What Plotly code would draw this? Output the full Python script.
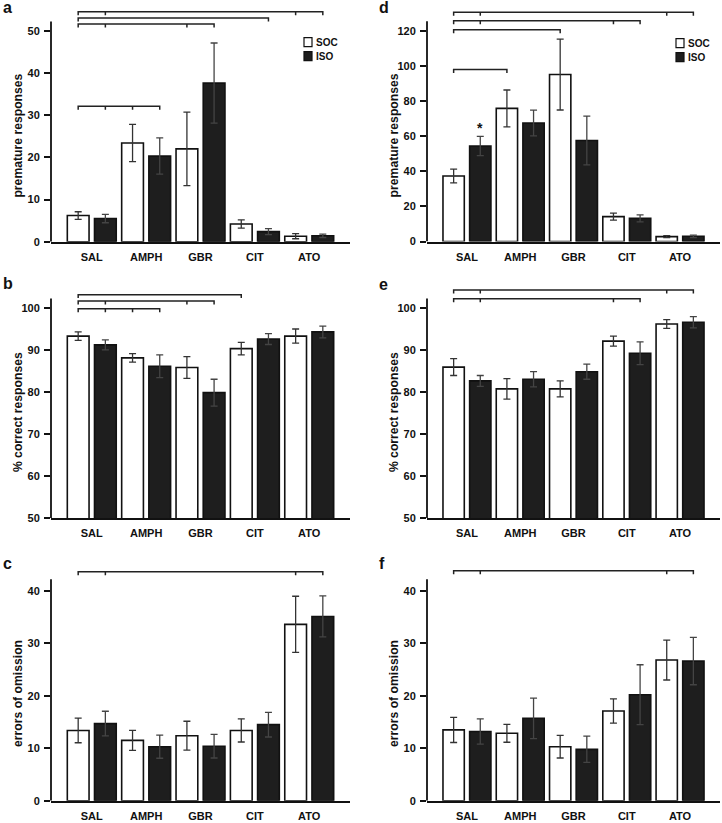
import plotly.graph_objects as go

W, H = 722, 823

drugs = ["SAL", "AMPH", "GBR", "CIT", "ATO"]

# a: premature responses (left column)
a_soc = [6.2, 23.4, 22.0, 4.2, 1.3]
a_soc_sem = [0.9, 4.4, 8.7, 1.0, 0.6]
a_iso = [5.5, 20.3, 37.6, 2.4, 1.4]
a_iso_sem = [1.0, 4.3, 9.5, 0.7, 0.4]

# b: % correct responses
b_soc = [93.4, 88.2, 85.9, 90.4, 93.4]
b_soc_sem = [1.0, 1.0, 2.6, 1.5, 1.7]
b_iso = [91.3, 86.2, 79.9, 92.7, 94.4]
b_iso_sem = [1.2, 2.7, 3.2, 1.3, 1.4]

# c: errors of omission
c_soc = [13.4, 11.5, 12.4, 13.4, 33.6]
c_soc_sem = [2.35, 1.9, 2.75, 2.2, 5.35]
c_iso = [14.7, 10.3, 10.4, 14.5, 35.1]
c_iso_sem = [2.35, 2.2, 2.25, 2.35, 3.9]

# d: premature responses (right column)
d_soc = [37.3, 75.8, 95.1, 14.2, 2.8]
d_soc_sem = [3.9, 10.5, 20.2, 2.0, 0.6]
d_iso = [54.4, 67.5, 57.5, 13.2, 3.0]
d_iso_sem = [5.5, 7.3, 13.9, 2.0, 0.7]

# e: % correct responses
e_soc = [86.0, 80.8, 80.8, 92.2, 96.3]
e_soc_sem = [2.0, 2.45, 1.9, 1.2, 1.05]
e_iso = [82.7, 83.1, 84.9, 89.3, 96.7]
e_iso_sem = [1.3, 1.8, 1.8, 2.7, 1.35]

# f: errors of omission
f_soc = [13.5, 12.85, 10.3, 17.1, 26.8]
f_soc_sem = [2.4, 1.7, 2.15, 2.3, 3.8]
f_iso = [13.2, 15.7, 9.8, 20.2, 26.6]
f_iso_sem = [2.4, 3.85, 2.5, 5.7, 4.5]

# significance brackets: (bar indices, height); bar index = 2*drug + (0 SOC / 1 ISO)
a_brackets = [([0, 1, 8, 9], 54.5), ([0, 7], 53.0), ([0, 1, 4, 5], 51.6), ([0, 1, 2, 3], 32.1)]
b_brackets = [([0, 6], 103.3), ([0, 1, 4, 5], 101.75), ([0, 1, 2, 3], 99.9)]
c_brackets = [([0, 1, 8, 9], 43.6)]
d_brackets = [([0, 1, 8, 9], 130.6), ([0, 1, 6, 7], 125.7), ([0, 4], 120.6), ([0, 2], 98.0)]
e_brackets = [([0, 1, 8, 9], 104.4), ([0, 1, 6, 7], 102.3)]
f_brackets = [([0, 1, 8, 9], 43.8)]

FONT = "Liberation Sans"
INK = "#111"
ISO_FILL = "#1e1e1e"


def px_x(p):
    return p / W


def px_y(p):
    return 1 - p / H


# letter, letter baseline px, data, brackets, y title, x px span, y px span (top, bottom),
# y range, axis top, dtick, legend position
panels = [
    ("a", 14.5, (a_soc, a_soc_sem, a_iso, a_iso_sem), a_brackets, "premature responses",
     (51, 350), (5.5, 243.5), (0, 56), 52.2, 10, (304, 38)),
    ("b", 293, (b_soc, b_soc_sem, b_iso, b_iso_sem), b_brackets, "% correct responses",
     (51, 350), (285.4, 521.7), (50, 106), 102.4, 10, None),
    ("c", 575, (c_soc, c_soc_sem, c_iso, c_iso_sem), c_brackets, "errors of omission",
     (51, 350), (568.6, 806.7), (0, 45), 42.2, 10, None),
    ("d", 14.5, (d_soc, d_soc_sem, d_iso, d_iso_sem), d_brackets, "premature responses",
     (427, 720), (4.5, 243.3), (0, 135), 125.4, 20, (676, 39)),
    ("e", 294, (e_soc, e_soc_sem, e_iso, e_iso_sem), e_brackets, "% correct responses",
     (427, 720), (285.4, 521.7), (50, 106), 102.4, 10, None),
    ("f", 575, (f_soc, f_soc_sem, f_iso, f_iso_sem), f_brackets, "errors of omission",
     (427, 720), (568.6, 806.7), (0, 45), 42.2, 10, None),
]

fig = go.Figure()
shapes = []
annotations = []
x_soc = [2 * i for i in range(len(drugs))]
x_iso = [2 * i + 1 for i in range(len(drugs))]
x_lab = [2 * i + 0.5 for i in range(len(drugs))]

for k, panel in enumerate(panels, start=1):
    letter, base, vals, brackets, ytitle, xspan, yspan, yrange, ytop, dtick, legend = panel
    soc, soc_sem, iso, iso_sem = vals
    axn = "" if k == 1 else str(k)
    xa, ya = "x" + axn, "y" + axn

    fig.add_trace(go.Bar(
        x=x_soc, y=soc, width=0.8, xaxis=xa, yaxis=ya, name="SOC", showlegend=False,
        marker=dict(color="white", line=dict(color=INK, width=1.6)),
        error_y=dict(type="data", array=soc_sem, color="#333", thickness=1.3, width=3.5),
    ))
    fig.add_trace(go.Bar(
        x=x_iso, y=iso, width=0.8, xaxis=xa, yaxis=ya, name="ISO", showlegend=False,
        marker=dict(color=ISO_FILL, line=dict(color=INK, width=1.6)),
        error_y=dict(type="data", array=iso_sem, color="#444", thickness=1.3, width=3.5),
    ))

    # brackets
    px_per_unit = (yspan[1] - yspan[0]) / (yrange[1] - yrange[0])
    drop = 3.5 / px_per_unit
    bx, by = [], []
    for idx, lvl in brackets:
        bx += [idx[0], idx[0], idx[-1], idx[-1], None]
        by += [lvl - drop, lvl, lvl, lvl - drop, None]
        for m in idx[1:-1]:
            bx += [m, m, None]
            by += [lvl, lvl - drop, None]
    fig.add_trace(go.Scatter(
        x=bx, y=by, mode="lines", xaxis=xa, yaxis=ya, showlegend=False,
        line=dict(color="#222", width=1.5), hoverinfo="skip",
    ))

    fig.update_layout(**{
        f"xaxis{axn}": dict(
            domain=[px_x(xspan[0]), px_x(xspan[1])], range=[-1, 10], anchor=ya,
            showline=True, linecolor=INK, linewidth=1.8, showgrid=False, zeroline=False,
            tickmode="array", tickvals=x_lab, ticktext=drugs, ticks="", ticklen=0,
            tickfont=dict(family=FONT, size=11, color=INK, weight="bold"),
            ticklabelstandoff=4,
        ),
        f"yaxis{axn}": dict(
            domain=[px_y(yspan[1]), px_y(yspan[0])], range=list(yrange), anchor=xa,
            showline=False, showgrid=False, zeroline=False,
            tick0=0, dtick=dtick, ticks="outside", ticklen=6, tickwidth=1.5, tickcolor=INK,
            tickfont=dict(family=FONT, size=11, color=INK, weight="bold"),
            ticklabelstandoff=2,
        ),
    })

    # y axis line stops just above the top tick
    shapes.append(dict(type="line", xref=f"{xa} domain", yref=ya, x0=0, x1=0,
                       y0=yrange[0], y1=ytop, line=dict(color=INK, width=1.8)))

    annotations.append(dict(
        text=ytitle, textangle=-90, xref="paper", yref=ya,
        x=px_x(xspan[0] - 33), y=(yrange[0] + ytop) / 2 - 1 / px_per_unit * 4,
        xanchor="center", yanchor="middle", showarrow=False,
        font=dict(family=FONT, size=12.2, color=INK, weight="bold"),
    ))
    annotations.append(dict(
        text=letter, xref="paper", yref="paper",
        x=px_x(1 if xspan[0] < 100 else 377), y=px_y(base + 3.5),
        xanchor="left", yanchor="bottom", showarrow=False,
        font=dict(family=FONT, size=16, color=INK, weight="bold"),
    ))

    if legend:
        lx, ly = legend
        for j, (lab, fill) in enumerate([("SOC", "white"), ("ISO", ISO_FILL)]):
            top = ly + j * 14
            shapes.append(dict(type="rect", xref="paper", yref="paper",
                               x0=px_x(lx), x1=px_x(lx + 8), y0=px_y(top + 9), y1=px_y(top),
                               fillcolor=fill, line=dict(color=INK, width=1.2)))
            annotations.append(dict(
                text=lab, xref="paper", yref="paper", x=px_x(lx + 10), y=px_y(top + 4.5),
                xanchor="left", yanchor="middle", showarrow=False,
                font=dict(family=FONT, size=10, color=INK, weight="bold"),
            ))

# significant SOC vs ISO difference in panel d (SAL)
annotations.append(dict(
    text="*", xref="x4", yref="y4", x=x_iso[0], y=64.7,
    xanchor="center", yanchor="middle", showarrow=False,
    font=dict(family=FONT, size=14, color=INK, weight="bold"),
))

fig.update_layout(
    width=W, height=H, margin=dict(l=0, r=0, t=0, b=0),
    paper_bgcolor="white", plot_bgcolor="white",
    barmode="overlay", showlegend=False,
    shapes=shapes, annotations=annotations,
)

# drop the browser's default body margin so the figure fills the window exactly
fig.write_html("out.html", config={"displayModeBar": False},
               post_script="document.body.style.margin = '0';")
